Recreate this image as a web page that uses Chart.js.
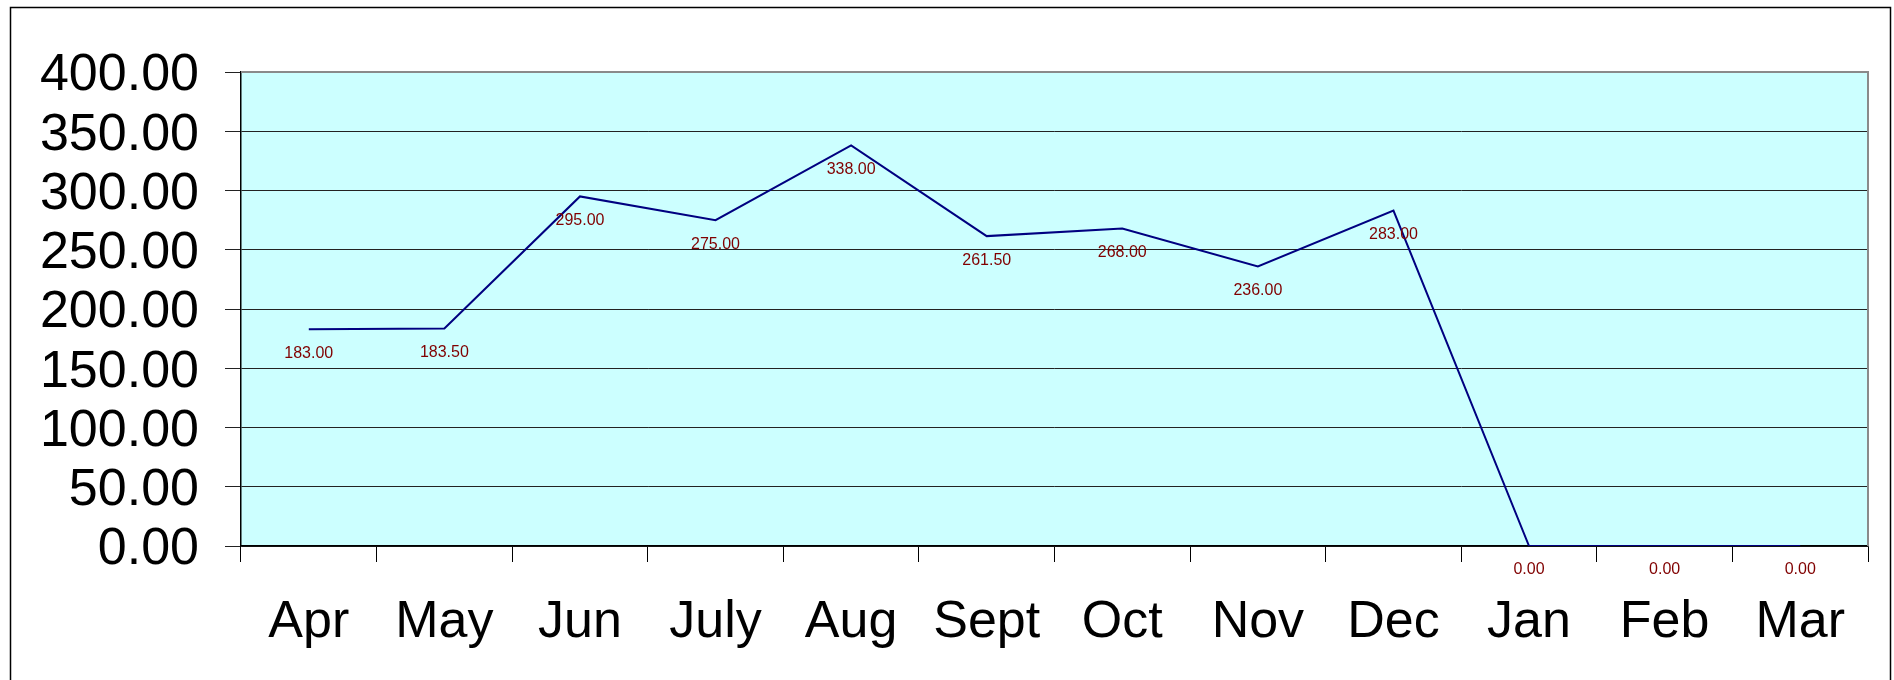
<!DOCTYPE html>
<html>
<head>
<meta charset="utf-8">
<script src="https://cdn.jsdelivr.net/npm/chart.js@4/dist/chart.umd.min.js"></script>
<style>
  html, body { margin: 0; padding: 0; background: #fff; }
  #wrap { width: 1894px; height: 680px; position: relative; }
</style>
</head>
<body>
<div id="wrap"><canvas id="chart" width="1894" height="680"></canvas></div>
<script>
// data
const months = ['Apr', 'May', 'Jun', 'July', 'Aug', 'Sept', 'Oct', 'Nov', 'Dec', 'Jan', 'Feb', 'Mar'];
const values = [183, 183.5, 295, 275, 338, 261.5, 268, 236, 283, 0, 0, 0];
const yTicks = [0, 50, 100, 150, 200, 250, 300, 350, 400];

const FONT = "Arial, 'Liberation Sans', sans-serif";

// frame + plot background, drawn before the datasets
const backdrop = {
	id: 'backdrop',
	beforeDraw(chart) {
		const { ctx, chartArea: a } = chart;
		ctx.save();
		ctx.fillStyle = '#ffffff';
		ctx.fillRect(0, 0, chart.width, chart.height);
		ctx.fillStyle = '#ccffff';
		ctx.fillRect(a.left, a.top, a.right - a.left, a.bottom - a.top);
		// outer chart border
		ctx.strokeStyle = '#000';
		ctx.lineWidth = 1.5;
		ctx.strokeRect(10.5, 7.5, 1880, 700);
		ctx.restore();
	},
	afterDatasetsDraw(chart) {
		const { ctx, chartArea: a } = chart;
		ctx.save();
		// grey top/right edge of plot area
		ctx.strokeStyle = '#8a8a8a';
		ctx.lineWidth = 2;
		ctx.beginPath();
		ctx.moveTo(a.left, a.top);
		ctx.lineTo(a.right, a.top);
		ctx.lineTo(a.right, a.bottom);
		ctx.stroke();
		// value labels under each point
		const meta = chart.getDatasetMeta(0);
		ctx.fillStyle = '#800000';
		ctx.font = '16px ' + FONT;
		ctx.textAlign = 'center';
		ctx.textBaseline = 'middle';
		meta.data.forEach((pt, i) => {
			ctx.fillText(values[i].toFixed(2), pt.x, pt.y + 24);
		});
		ctx.restore();
	}
};

const ctx = document.getElementById('chart').getContext('2d');
const chart = new Chart(ctx, {
	type: 'line',
	data: {
		labels: months,
		datasets: [{
			data: values,
			borderColor: '#000080',
			borderWidth: 2,
			pointRadius: 0,
			tension: 0,
			fill: false
		}]
	},
	options: {
		responsive: false,
		animation: false,
		devicePixelRatio: 1,
		layout: { padding: { left: 0, top: 72, right: 26, bottom: 0 } },
		plugins: {
			legend: { display: false },
			tooltip: { enabled: false }
		},
		scales: {
			x: {
				offset: true,
				grid: {
					offset: true,
					drawOnChartArea: false,
					drawTicks: true,
					tickLength: 16,
					color: '#000',
					lineWidth: 1
				},
				border: { display: true, color: '#000', width: 1.5 },
				ticks: {
					color: '#000',
					font: { family: FONT, size: 52 },
					padding: 29,
					maxRotation: 0,
					autoSkip: false
				},
				afterFit(scale) { scale.height = 134; }
			},
			y: {
				min: 0,
				max: 400,
				afterBuildTicks(scale) { scale.ticks = yTicks.map(v => ({ value: v })); },
				grid: {
					color: '#222',
					lineWidth: 1,
					drawTicks: true,
					tickLength: 16
				},
				border: { display: true, color: '#000', width: 1.5 },
				ticks: {
					color: '#000',
					font: { family: FONT, size: 52 },
					padding: 26,
					labelOffset: 4,
					autoSkip: false,
					callback: v => Number(v).toFixed(2)
				},
				afterFit(scale) { scale.width = 241; }
			}
		}
	},
	plugins: [backdrop]
});
</script>
</body>
</html>
